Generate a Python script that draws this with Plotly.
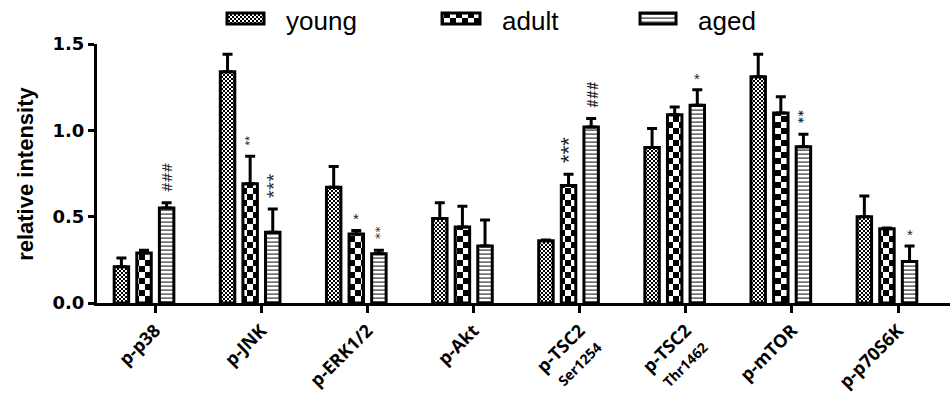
import plotly.graph_objects as go

# Phosphoprotein levels by age group (mean and SEM)
categories = ["p-p38", "p-JNK", "p-ERK1/2", "p-Akt",
              "p-TSC2<br><span style='font-size:14px'>Ser1254</span>",
              "p-TSC2<br><span style='font-size:14px'>Thr1462</span>",
              "p-mTOR", "p-p70S6K"]

young = [0.21, 1.34, 0.67, 0.49, 0.36, 0.90, 1.31, 0.50]
young_err = [0.05, 0.10, 0.12, 0.09, 0.005, 0.11, 0.13, 0.12]
young_sig = ["", "", "", "", "", "", "", ""]

adult = [0.29, 0.69, 0.40, 0.44, 0.68, 1.09, 1.10, 0.43]
adult_err = [0.015, 0.16, 0.02, 0.12, 0.065, 0.045, 0.095, 0.005]
adult_sig = ["", "**", "*", "", "***", "", "", ""]

aged = [0.55, 0.41, 0.285, 0.33, 1.02, 1.145, 0.905, 0.24]
aged_err = [0.03, 0.135, 0.02, 0.15, 0.048, 0.09, 0.072, 0.09]
aged_sig = ["###", "***", "**", "", "###", "*", "**", "*"]

y_ticks = [0.0, 0.5, 1.0, 1.5]

# key swatch left/right edges and label start, in paper units
key_pos = [(0.1524, 0.1958, 0.2193), (0.4045, 0.4490, 0.4725), (0.6366, 0.6788, 0.7023)]

groups = [
    ("young", young, young_err, young_sig),
    ("adult", adult, adult_err, adult_sig),
    ("aged", aged, aged_err, aged_sig),
]

# font variants for the vertical significance marks
mark_fonts = {
    (2, 0): ("Open Sans", 15), (1, 1): ("Liberation Sans", 12), (2, 1): ("Noto Sans", 15),
    (2, 2): ("DejaVu Sans", 13), (1, 4): ("Liberation Sans", 22), (2, 4): ("Lato", 15),
    (2, 6): ("Inter", 14),
}

x_idx = list(range(len(categories)))
slot = 0.213  # spacing between neighbouring bars in a group

fig = go.Figure()
annotations = []
shapes = []
for j, (name, vals, errs, sig) in enumerate(groups):
    fig.add_trace(go.Bar(
        name=name, x=x_idx, y=vals, showlegend=False,
        marker=dict(color="white", line=dict(color="black", width=3)),
        error_y=dict(type="data", symmetric=False, array=errs,
                     arrayminus=[0] * len(errs), color="black",
                     thickness=3, width=5),
    ))
    for i, s in enumerate(sig):
        if not s:
            continue
        rotated = len(s) > 1
        fam, size = mark_fonts.get((j, i), ("Liberation Sans", 15))
        annotations.append(dict(
            x=i + (j - 1) * slot, y=vals[i] + errs[i], xref="x", yref="y",
            text=s, showarrow=False, textangle=-90 if rotated else 0,
            yanchor="bottom", xanchor="center",
            yshift=9 if rotated else 1,
            font=dict(family=fam, size=size, color="#222"),
        ))
    # key entry: hatched swatch + group name
    x0, x1, xt = key_pos[j]
    shapes.append(dict(type="rect", xref="paper", yref="paper",
                       x0=x0, x1=x1, y0=1.0772, y1=1.1197,
                       line=dict(color="black", width=3), fillcolor="white"))
    annotations.append(dict(
        x=xt, y=1.0907, xref="paper", yref="paper", text=name, showarrow=False,
        xanchor="left", yanchor="middle",
        font=dict(family="Liberation Sans, Arial", size=26, color="black"),
    ))

annotations.append(dict(
    x=-0.084, y=0.5, xref="paper", yref="paper", text="<b>relative intensity</b>",
    showarrow=False, textangle=-90, xanchor="center", yanchor="middle",
    font=dict(family="Liberation Sans, Arial", size=22, color="black"),
))

fig.update_layout(
    width=950, height=403,
    margin=dict(l=97, r=0, t=44, b=100),
    paper_bgcolor="white", plot_bgcolor="white",
    barmode="group", bargap=0.361, bargroupgap=0.36,
    showlegend=False,
    annotations=annotations,
    shapes=shapes,
    xaxis=dict(
        range=[-0.443, 7.594], tickmode="array", automargin=False,
        tickvals=[i + 0.105 for i in x_idx], ticktext=categories,
        tickangle=-45, ticks="outside", ticklen=7, tickwidth=3, tickcolor="black",
        showline=True, linewidth=3, linecolor="black", showgrid=False, zeroline=False,
        tickfont=dict(family="Open Sans", size=18, color="black", weight="bold"),
    ),
    yaxis=dict(
        range=[0, 1.5], tickmode="array", tickvals=y_ticks, tickformat=".1f",
        automargin=False,
        ticks="outside", ticklen=6, tickwidth=3, tickcolor="black",
        showline=True, linewidth=3, linecolor="black", showgrid=False, zeroline=False,
        tickfont=dict(family="DejaVu Sans", size=18, color="black", weight="bold"),
    ),
)

# Hatch fills: fine checks (young), coarse checks (adult), horizontal lines (aged)
post = """
var ns = 'http://www.w3.org/2000/svg';
var svg = document.querySelector('.main-svg');
var defs = document.createElementNS(ns, 'defs');
svg.insertBefore(defs, svg.firstChild);
function addPattern(id, w, h, rects) {
  var p = document.createElementNS(ns, 'pattern');
  p.setAttribute('id', id); p.setAttribute('patternUnits', 'userSpaceOnUse');
  p.setAttribute('width', w); p.setAttribute('height', h);
  rects.forEach(function(r){
    var e = document.createElementNS(ns, 'rect');
    e.setAttribute('fill', r[0]); e.setAttribute('x', r[1]); e.setAttribute('y', r[2]);
    e.setAttribute('width', r[3]); e.setAttribute('height', r[4]);
    p.appendChild(e);
  });
  defs.appendChild(p);
}
addPattern('hatch-young', 4, 4, [['white',0,0,4,4],['black',0,0,2,2],['black',2,2,2,2]]);
addPattern('hatch-adult', 12, 12, [['white',0,0,12,12],['black',0,0,6,6],['black',6,6,6,6]]);
addPattern('hatch-aged', 4, 4, [['white',0,0,4,4],['#333',0,1.5,4,1.2]]);
var ids = ['hatch-young', 'hatch-adult', 'hatch-aged'];
document.querySelectorAll('.barlayer .trace').forEach(function(t, k){
  t.querySelectorAll('.point path').forEach(function(p){
    p.style.fill = 'url(#' + ids[k] + ')';
  });
});
document.querySelectorAll('.shapelayer path').forEach(function(p, k){
  if (k < ids.length) {
    p.style.fill = 'url(#' + ids[k] + ')';
    p.style.fillOpacity = '1';
  }
});
"""

fig.write_html("out.html", post_script=post)
